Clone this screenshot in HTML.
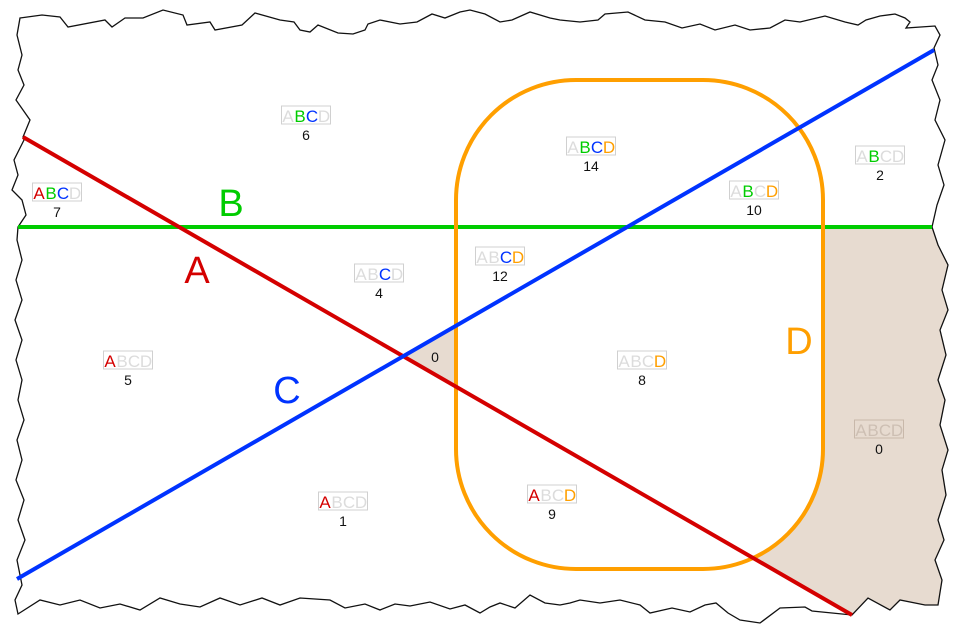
<!DOCTYPE html>
<html><head><meta charset="utf-8"><style>
html,body{margin:0;padding:0;background:#fff;}
svg{display:block;}
.lb{font-family:"Liberation Sans",sans-serif;font-size:17px;}
.n{font-family:"Liberation Sans",sans-serif;font-size:14px;fill:#111;text-anchor:middle;}
.big{font-family:"Liberation Sans",sans-serif;font-size:38px;text-anchor:middle;}
</style></head><body>
<svg width="960" height="633" viewBox="0 0 960 633" xmlns="http://www.w3.org/2000/svg">
<defs>
<clipPath id="fr"><path id="frp" d="M20,18 L42,15 L60,17 L68,27 L105,20 L112,27 L125,18 L143,18 L163,10 L183,15 L187,25 L210,22 L215,30 L242,25 L255,13 L280,20 L294,22 L300,30 L310,32 L318,25 L338,33 L353,34 L365,30 L368,24 L380,20 L400,24 L417,22 L432,14 L445,18 L460,12 L470,10 L485,14 L500,22 L512,20 L530,12 L550,18 L560,20 L580,22 L598,20 L605,14 L628,12 L645,20 L665,22 L682,28 L700,24 L715,30 L735,25 L750,30 L770,28 L785,20 L800,22 L825,16 L845,22 L858,25 L866,20 L880,16 L895,14 L905,18 L910,22 L906,28 L935,26 L940,35 L934,48 L938,65 L932,80 L940,100 L935,120 L945,140 L938,165 L944,185 L937,205 L932,227 L938,245 L948,265 L942,290 L948,310 L940,330 L946,355 L938,380 L945,400 L940,425 L948,450 L942,470 L946,495 L938,520 L944,540 L935,560 L942,580 L938,605 L925,605 L900,600 L890,610 L868,598 L852,615 L812,611 L805,607 L780,608 L760,623 L740,620 L728,613 L716,603 L705,605 L690,612 L672,608 L650,613 L640,605 L620,600 L600,603 L580,600 L570,603 L560,605 L545,603 L530,595 L515,608 L500,603 L490,607 L480,613 L465,605 L450,609 L430,602 L410,606 L395,604 L380,610 L365,604 L345,608 L330,600 L300,598 L280,605 L262,598 L240,605 L220,598 L200,607 L180,604 L160,598 L140,610 L120,604 L100,608 L80,600 L60,605 L40,600 L18,614 L15,600 L22,585 L17,560 L25,540 L18,520 L24,500 L16,480 L22,460 L17,440 L24,420 L18,400 L22,380 L16,360 L22,340 L15,320 L22,300 L16,280 L22,260 L17,240 L18,227 L26,215 L22,200 L12,190 L18,175 L14,160 L24,140 L23,137 L30,120 L16,100 L24,85 L18,70 L22,55 L17,35 Z"/></clipPath>
</defs>
<use href="#frp" fill="#fff"/>
<g clip-path="url(#fr)">
<polygon points="823,227 960,227 960,633 852,615 650,498 650,227" fill="#e7dbd0"/>
<rect x="456" y="80" width="367" height="489" rx="120" ry="120" fill="#fff"/>
<polygon points="403,356 456,326 456,387" fill="#e7dbd0"/>
</g>
<use href="#frp" fill="none" stroke="#111" stroke-width="1.3"/>
<line x1="18" y1="227" x2="932" y2="227" stroke="#00cc00" stroke-width="4"/>
<rect x="456" y="80" width="367" height="489" rx="120" ry="120" fill="none" stroke="#ff9f00" stroke-width="4"/>
<line x1="23" y1="137" x2="852" y2="615" stroke="#d40000" stroke-width="4"/>
<line x1="17" y1="579" x2="934" y2="50" stroke="#0033ff" stroke-width="4"/>
<text class="big" x="231" y="216" fill="#00cc00">B</text>
<text class="big" x="197" y="283" fill="#d40000">A</text>
<text class="big" x="287" y="403" fill="#0033ff">C</text>
<text class="big" x="799" y="354" fill="#ff9f00">D</text>
<g id="labels"></g>
</svg>
<script>
const L=[[306,106,"0110","6"],[57,183,"1110","7"],[379,264,"0010","4"],[591,137,"0111","14"],[880,146,"0100","2"],[754,181,"0101","10"],[500,247,"0011","12"],[128,351,"1000","5"],[642,351,"0001","8"],[879,420,"0000","0",1],[343,492,"1000","1"],[552,485,"1001","9"]];
const C=["#d40000","#00cc00","#0033ff","#ff9f00"],g=document.getElementById("labels");
let h="";
for(const [x,y,m,n,sh] of L){
 const gray=sh?"#cdbfb3":"#dcdcdc";
 h+=`<rect x="${x-24.5}" y="${y}" width="49" height="18" fill="${sh?'#e7dbd0':'#fff'}" stroke="${sh?'#c8b8aa':'#d0d0d0'}" stroke-width="1"/>`;
 "ABCD".split("").forEach((c,i)=>{h+=`<text class="lb" x="${x-24+i*12+6}" y="${y+16}" text-anchor="middle" fill="${m[i]=="1"?C[i]:gray}">${c}</text>`;});
 h+=`<text class="n" x="${x}" y="${y+34}">${n}</text>`;
}
h+=`<text class="n" x="435" y="362">0</text>`;
g.innerHTML=h;
</script>
</body></html>
